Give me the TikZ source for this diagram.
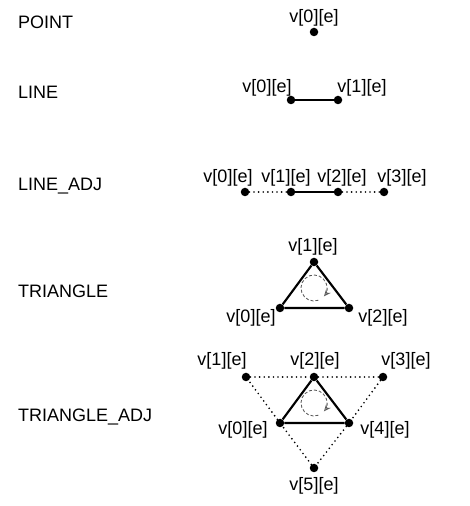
\documentclass[tikz,border=0pt]{standalone}
\usepackage{fontspec}
\setmainfont{Liberation Sans}
\usetikzlibrary{arrows.meta}

\begin{document}
\begin{tikzpicture}[%
        x = 1pt,
        y = 1pt,
        font = \fontsize{18pt}{20pt}\selectfont,
        vert/.style = {circle, fill = black, inner sep = 0pt, minimum size = 8.5pt},
        lbl/.style = {inner sep = 0pt},
        kind/.style = {inner sep = 0pt, anchor = base west},
        edge/.style = {line width = 0.75mm},
        adj/.style = {line width = 0.65mm, line cap = round, dash pattern = on 0pt off 4.6pt},
        wind/.style = {black!65, line width = 0.3mm, dash pattern = on 3pt off 2pt,
            -{Stealth[open, length = 7pt, width = 6pt]}}
    ]
        \useasboundingbox (0, 0) rectangle (469, 506);

        % Names of the primitive kinds on the left.
        \node[kind] (Point_Kind) at (18, 477) {POINT};
        \node[kind] (Line_Kind) at (18, 407) {LINE};
        \node[kind] (Line_Adj_Kind) at (18, 315) {LINE\_ADJ};
        \node[kind] (Tri_Kind) at (18, 208) {TRIANGLE};
        \node[kind] (Tri_Adj_Kind) at (18, 84) {TRIANGLE\_ADJ};

        % POINT.
        \node[vert] (P0) at (314, 474) {};
        \node[lbl] (P0_Lbl) at (314, 488) {v[0][e]};

        % LINE.
        \node[vert] (L0) at (291, 406) {};
        \node[vert] (L1) at (338, 406) {};
        \node[lbl] (L0_Lbl) at (267, 418) {v[0][e]};
        \node[lbl] (L1_Lbl) at (362, 418) {v[1][e]};
        \draw[edge] (L0) -- (L1);

        % LINE_ADJ.
        \node[vert] (LA0) at (245, 314) {};
        \node[vert] (LA1) at (291, 314) {};
        \node[vert] (LA2) at (338, 314) {};
        \node[vert] (LA3) at (384, 314) {};
        \node[lbl] (LA0_Lbl) at (228, 328) {v[0][e]};
        \node[lbl] (LA1_Lbl) at (286, 328) {v[1][e]};
        \node[lbl] (LA2_Lbl) at (342, 328) {v[2][e]};
        \node[lbl] (LA3_Lbl) at (402, 328) {v[3][e]};
        \draw[adj] (LA0) -- (LA1);
        \draw[edge] (LA1) -- (LA2);
        \draw[adj] (LA2) -- (LA3);

        % TRIANGLE.
        \node[vert] (T0) at (280, 198) {};
        \node[vert] (T1) at (314, 244) {};
        \node[vert] (T2) at (349, 198) {};
        \node[lbl] (T0_Lbl) at (251, 188.5) {v[0][e]};
        \node[lbl] (T1_Lbl) at (313, 259.5) {v[1][e]};
        \node[lbl] (T2_Lbl) at (383, 188.5) {v[2][e]};
        \draw[edge] (T0) -- (T1) -- (T2) -- (T0);

        % Winding order of the triangle.
        \coordinate (Tri_Center) at (314, 218);
        \draw[wind] (Tri_Center) ++(290:13pt) arc[start angle = 290, end angle = -40, radius = 13pt];

        % TRIANGLE_ADJ.
        \node[vert] (TA0) at (280, 83) {};
        \node[vert] (TA1) at (246, 129) {};
        \node[vert] (TA2) at (314, 129) {};
        \node[vert] (TA3) at (383, 129) {};
        \node[vert] (TA4) at (349, 83) {};
        \node[vert] (TA5) at (314, 38) {};
        \node[lbl] (TA0_Lbl) at (243, 76) {v[0][e]};
        \node[lbl] (TA1_Lbl) at (222, 145.5) {v[1][e]};
        \node[lbl] (TA2_Lbl) at (315, 145.5) {v[2][e]};
        \node[lbl] (TA3_Lbl) at (406, 145.5) {v[3][e]};
        \node[lbl] (TA4_Lbl) at (385, 76) {v[4][e]};
        \node[lbl] (TA5_Lbl) at (314, 20.5) {v[5][e]};
        \draw[adj] (TA0) -- (TA1) -- (TA2) -- (TA3) -- (TA4) -- (TA5) -- (TA0);
        \draw[edge] (TA0) -- (TA2) -- (TA4) -- (TA0);

        % Winding order of the adjacency triangle.
        \coordinate (Tri_Adj_Center) at (314, 103);
        \draw[wind] (Tri_Adj_Center) ++(290:13pt) arc[start angle = 290, end angle = -40, radius = 13pt];
    \end{tikzpicture}
\end{document}
